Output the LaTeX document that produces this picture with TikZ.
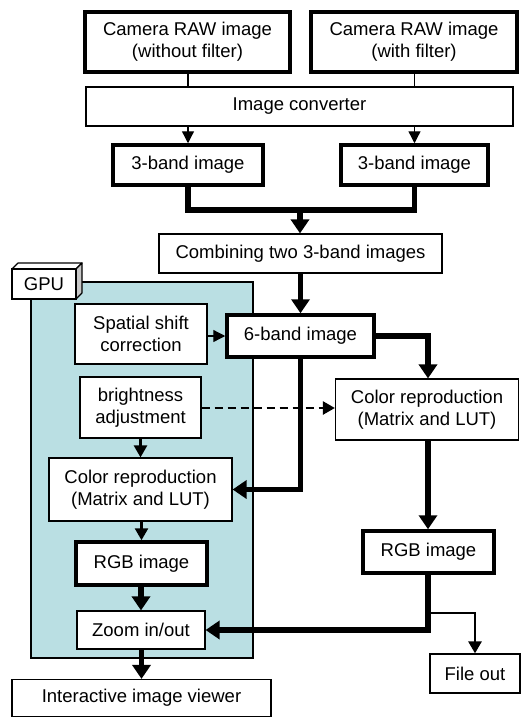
\documentclass[tikz,border=0pt]{standalone}
\usepackage{fontspec}
\setmainfont{Liberation Sans}
\usetikzlibrary{arrows.meta,calc}
\definecolor{gpufill}{RGB}{186,223,227}
\definecolor{sidegray}{RGB}{200,200,200}
\tikzset{
  thinbox/.style={draw, line width=1.2pt, fill=white, align=center, inner sep=0pt},
  thickbox/.style={draw, line width=3.5pt, fill=white, align=center, inner sep=0pt},
  thinline/.style={line width=1.3pt},
  midline/.style={line width=2.6pt},
  heavyline/.style={line width=5.5pt},
  thinarrow/.style={thinline, -{Triangle[width=12pt,length=12pt]}},
  midarrow/.style={midline, -{Triangle[width=13pt,length=12pt]}},
  heavyarrow/.style={heavyline, -{Triangle[width=18pt,length=14pt]}},
  dasharrow/.style={line width=2.4pt, dash pattern=on 8pt off 5pt, -{Triangle[width=13pt,length=12pt]}},
}
\begin{document}
\begin{tikzpicture}[x=1pt,y=-1pt,font=\fontsize{18.5}{22}\selectfont]
\useasboundingbox (0,0) rectangle (521,718);

% GPU panel
\fill[gpufill] (31,282) rectangle (253,658);
\draw[line width=1.2pt] (31,282) rectangle (253,658);
% GPU tag drawn as a small block
\filldraw[fill=white, line width=1.2pt, line join=round] (12,269) -- (18,263) -- (82,263) -- (76,269) -- cycle;
\filldraw[fill=sidegray, line width=1.2pt, line join=round] (76,269) -- (82,263) -- (82,293) -- (76,299) -- cycle;
\node[thinbox, minimum width=64pt, minimum height=30pt] (gpu) at (44,284) {GPU};

% top sources
\node[thickbox, minimum width=205pt, minimum height=60pt] (raw1) at (187.5,42) {Camera RAW image\\(without filter)};
\node[thickbox, minimum width=206pt, minimum height=60pt] (raw2) at (414,42) {Camera RAW image\\(with filter)};
\node[thinbox, minimum width=427pt, minimum height=39pt] (conv) at (299.5,106.5) {Image converter};
\node[thickbox, minimum width=150pt, minimum height=40pt] (b1) at (188,165) {3-band image};
\node[thickbox, minimum width=147pt, minimum height=40pt] (b2) at (414.5,165) {3-band image};
\node[thinbox, minimum width=283pt, minimum height=39pt] (comb) at (300.5,253.5) {Combining two 3-band images};

% main processing
\node[thinbox, minimum width=132pt, minimum height=60pt] (ssc) at (141,334) {Spatial shift\\correction};
\node[thickbox, minimum width=147pt, minimum height=42pt] (six) at (300.5,336) {6-band image};
\node[thinbox, minimum width=121pt, minimum height=61pt] (bright) at (140.5,407.5) {brightness\\adjustment};
\node[thinbox, minimum width=183pt, minimum height=61pt] (crR) at (427,409.5) {Color reproduction\\(Matrix and LUT)};
\node[thinbox, minimum width=183pt, minimum height=63pt] (crL) at (140.5,489.5) {Color reproduction\\(Matrix and LUT)};
\node[thickbox, minimum width=131pt, minimum height=43pt] (rgbL) at (141.5,563.5) {RGB image};
\node[thinbox, minimum width=128pt, minimum height=38pt] (zoom) at (141,630) {Zoom in/out};
\node[thinbox, minimum width=259pt, minimum height=37pt] (viewer) at (141.5,698) {Interactive image viewer};
\node[thickbox, minimum width=131pt, minimum height=42pt] (rgbR) at (428.5,552) {RGB image};
\node[thinbox, minimum width=90pt, minimum height=39pt] (fileout) at (475,673.5) {File out};

% routing points
\coordinate (join) at (300,210);
\coordinate (split) at (428,613);

% converter stage
\draw[thinline] (raw1.south -| b1.north) -- (conv.north -| b1.north);
\draw[thinline] (raw2.south -| b2.north) -- (conv.north -| b2.north);
\draw[thinarrow] (conv.south -| b1.north) -- (b1.north);
\draw[thinarrow] (conv.south -| b2.north) -- (b2.north);

% merging the two 3-band images
\draw[heavyline] (b1.south) |- (join);
\draw[heavyline] (b2.south) |- (join);
\draw[heavyarrow] (join) -- (comb.north -| join);
\draw[heavyarrow] (comb.south -| six.north) -- (six.north);

% GPU path
\draw[thinarrow] (ssc.east |- six.west) -- (six.west);
\draw[midarrow] (bright.south) -- (crL.north -| bright.south);
\draw[dasharrow] (bright.east |- 0,408) -- (crR.west |- 0,408);
\draw[heavyarrow] (six.south) |- (crL.east);
\draw[midarrow] (crL.south -| rgbL.north) -- (rgbL.north);
\draw[heavyarrow] (rgbL.south -| zoom.north) -- (zoom.north);
\draw[heavyarrow] (zoom.south -| viewer.north) -- (viewer.north);

% CPU path
\draw[heavyarrow] (six.east) -| (crR.north -| split);
\draw[heavyarrow] (crR.south -| split) -- (rgbR.north -| split);
\draw[heavyarrow] (rgbR.south -| split) |- (zoom.east);
\draw[midarrow] (split) -| (fileout.north);
\end{tikzpicture}
\end{document}
